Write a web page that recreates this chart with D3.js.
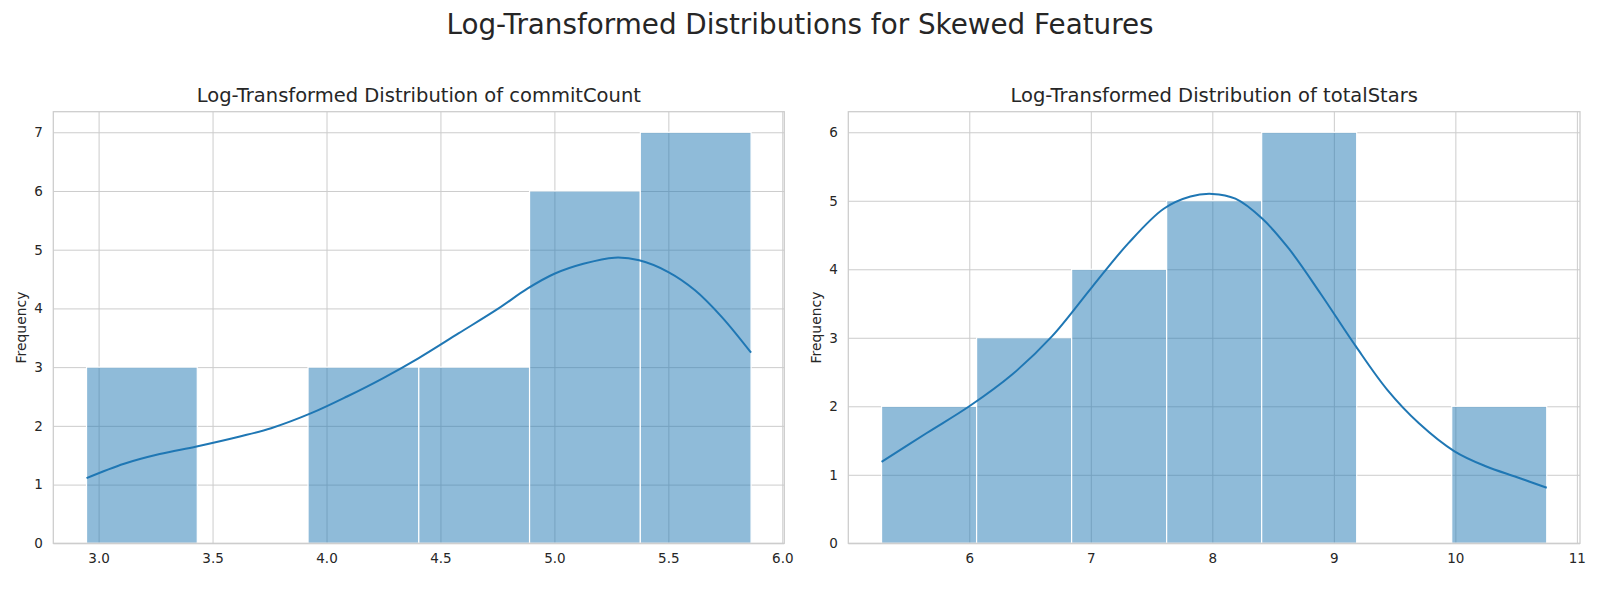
<!DOCTYPE html>
<html>
<head>
<meta charset="utf-8">
<script src="https://cdn.jsdelivr.net/npm/d3@7"></script>
<style>
  html, body { margin: 0; padding: 0; background: #fff; }
  svg { display: block; font-family: "DejaVu Sans", sans-serif; }
</style>
</head>
<body>
<svg id="chart" width="1600" height="600"></svg>
<script>
// ---- Data ----
const suptitle = "Log-Transformed Distributions for Skewed Features";

const commitTitle = "Log-Transformed Distribution of commitCount";
const commitBinEdges = [2.947, 3.433, 3.919, 4.405, 4.891, 5.377, 5.863];
const commitCounts = [3, 0, 3, 3, 6, 7];
const commitKdeX = [2.947, 3.112, 3.268, 3.43, 3.62, 3.757, 3.933, 4.09, 4.247, 4.403, 4.579, 4.755, 4.883, 5.0, 5.127, 5.264, 5.372, 5.5, 5.617, 5.734, 5.863];
const commitKdeY = [1.11, 1.355, 1.52, 1.65, 1.82, 1.96, 2.216, 2.50, 2.81, 3.15, 3.574, 4.0, 4.34, 4.59, 4.76, 4.864, 4.82, 4.62, 4.31, 3.857, 3.246];
const commitXTicks = [3.0, 3.5, 4.0, 4.5, 5.0, 5.5, 6.0];
const commitYTicks = [0, 1, 2, 3, 4, 5, 6, 7];

const starsTitle = "Log-Transformed Distribution of totalStars";
const starsBinEdges = [5.278, 6.060, 6.842, 7.624, 8.406, 9.188, 9.970, 10.752];
const starsCounts = [2, 3, 4, 5, 6, 0, 2];
const starsKdeX = [5.278, 5.65, 6.0, 6.35, 6.68, 7.01, 7.306, 7.60, 7.82, 8.0, 8.19, 8.41, 8.63, 8.89, 9.183, 9.44, 9.698, 9.993, 10.25, 10.508, 10.752];
const starsKdeY = [1.188, 1.61, 2.0, 2.46, 3.02, 3.74, 4.374, 4.884, 5.063, 5.10, 5.03, 4.74, 4.30, 3.647, 2.87, 2.24, 1.756, 1.343, 1.125, 0.965, 0.81];
const starsXTicks = [6, 7, 8, 9, 10, 11];
const starsYTicks = [0, 1, 2, 3, 4, 5, 6];

const yLabel = "Frequency";

// ---- Drawing ----
const svg = d3.select("#chart");
const textColor = "#262626";
const gridColor = "#cccccc";
const barColor = "#1f77b4";

svg.append("text")
  .attr("x", 800).attr("y", 34)
  .attr("text-anchor", "middle")
  .attr("fill", textColor)
  .style("font-size", "27.8px")
  .text(suptitle);

function panel(opts) {
  const { left, right, top, bottom, edges, counts, kx, ky, xticks, yticks, title, fmt } = opts;
  const lo = edges[0], hi = edges[edges.length - 1];
  const pad = (hi - lo) * 0.05;
  const ymax = d3.max(counts) * 1.05;
  const x = d3.scaleLinear().domain([lo - pad, hi + pad]).range([left, right]);
  const y = d3.scaleLinear().domain([0, ymax]).range([bottom, top]);
  const g = svg.append("g");

  // grid
  const xAxis = d3.axisBottom(x).tickValues(xticks).tickSize(-(bottom - top)).tickPadding(10.4).tickFormat(fmt);
  const yAxis = d3.axisLeft(y).tickValues(yticks).tickSize(-(right - left)).tickPadding(10.5).tickFormat(d3.format("d"));
  const gx = g.append("g").attr("transform", `translate(0,${bottom})`).call(xAxis);
  const gy = g.append("g").attr("transform", `translate(${left},0)`).call(yAxis);
  [gx, gy].forEach(a => {
    a.select(".domain").remove();
    a.selectAll(".tick line").attr("stroke", gridColor).attr("stroke-width", 1);
    a.selectAll(".tick text").attr("fill", textColor).style("font-size", "13.5px").style("font-family", "DejaVu Sans, sans-serif");
  });
  gx.selectAll(".tick text").attr("dy", "0.71em");

  // bars
  const bins = counts.map((c, i) => ({ x0: edges[i], x1: edges[i + 1], c }));
  g.append("g").selectAll("rect").data(bins.filter(b => b.c > 0)).join("rect")
    .attr("x", d => x(d.x0))
    .attr("width", d => x(d.x1) - x(d.x0))
    .attr("y", d => y(d.c))
    .attr("height", d => y(0) - y(d.c))
    .attr("fill", barColor).attr("fill-opacity", 0.5)
    .attr("stroke", "#ffffff").attr("stroke-width", 1.2);

  // kde
  const pts = kx.map((v, i) => [v, ky[i]]);
  g.append("path").datum(pts)
    .attr("d", d3.line().x(d => x(d[0])).y(d => y(d[1])).curve(d3.curveCatmullRom.alpha(0.5)))
    .attr("fill", "none").attr("stroke", barColor).attr("stroke-width", 2);

  // spines
  g.append("rect").attr("x", left).attr("y", top).attr("width", right - left).attr("height", bottom - top)
    .attr("fill", "none").attr("stroke", gridColor).attr("stroke-width", 1.25);

  // title
  g.append("text").attr("x", (left + right) / 2).attr("y", 101.7)
    .attr("text-anchor", "middle").attr("fill", textColor)
    .style("font-size", "19.5px").text(title);

  // y label
  g.append("text")
    .attr("transform", `translate(${left - 27.5},${(top + bottom) / 2}) rotate(-90)`)
    .attr("text-anchor", "middle").attr("fill", textColor)
    .style("font-size", "13.9px").text(yLabel);
}

panel({ left: 53.3, right: 784.3, top: 111.7, bottom: 543.3,
  edges: commitBinEdges, counts: commitCounts, kx: commitKdeX, ky: commitKdeY,
  xticks: commitXTicks, yticks: commitYTicks, title: commitTitle, fmt: d3.format(".1f") });

panel({ left: 848.3, right: 1580, top: 111.7, bottom: 543.3,
  edges: starsBinEdges, counts: starsCounts, kx: starsKdeX, ky: starsKdeY,
  xticks: starsXTicks, yticks: starsYTicks, title: starsTitle, fmt: d3.format("d") });
</script>
</body>
</html>
